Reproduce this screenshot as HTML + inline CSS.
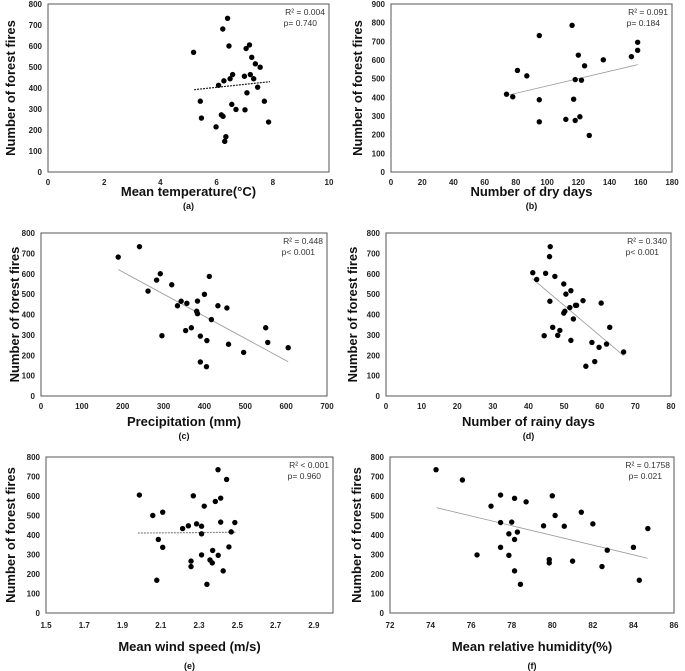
<!DOCTYPE html>
<html><head><meta charset="utf-8">
<style>
html,body{margin:0;padding:0;background:#fff;}
svg{display:block;font-family:"Liberation Sans",Arial,sans-serif;}
.tick{font-size:8px;font-weight:bold;fill:#222;}
.ytitle,.xtitle{font-size:13px;font-weight:bold;fill:#111;}
.lab{font-size:9px;font-weight:bold;fill:#111;}
.stat{font-size:8.5px;fill:#333;}
</style></head>
<body>
<svg id="chart" width="685" height="671" viewBox="0 0 685 671" xmlns="http://www.w3.org/2000/svg"></svg>
<script>
// Panel (a) Mean temperature
const tempX = [5.18,6.39,6.22,6.44,7.17,7.05,7.25,7.38,7.55,6.57,6.48,6.26,6.07,6.99,7.2,7.32,7.46,7.08,5.42,7.7,6.54,6.69,7.01,5.46,6.17,6.23,5.98,7.85,6.33,6.29];
const tempY = [570,732,681,600,605,588,546,515,499,464,444,434,413,456,464,444,404,377,337,337,322,298,296,257,272,265,215,238,168,146];
const tempTrend = [[5.2,392],[7.9,430]];
// Panel (b) Dry days
const dryX = [74,78,81,87,95,95,95,116,120,124,118,122,136,154,158,158,117,112,118,121,127];
const dryY = [417,403,544,515,731,387,269,786,626,569,495,492,601,618,695,652,390,282,276,296,196];
const dryTrend = [[74,410],[158,575]];
// Panel (c) Precipitation
const precX = [189,241,262,283,292,320,343,334,357,383,400,412,381,383,417,433,455,296,354,368,390,406,459,496,550,555,605,390,405];
const precY = [682,733,515,569,600,546,465,443,455,466,499,587,416,404,375,443,432,296,321,335,294,272,254,214,335,263,237,167,144];
const precTrend = [[189,621],[605,168]];
// Panel (d) Rainy days
const rainX = [41.2,42.3,46.1,45.9,44.8,47.4,49.9,50.5,51.9,46.0,55.3,60.4,53.2,53.5,51.6,49.9,50.2,52.6,46.8,48.8,44.4,48.2,51.9,57.8,59.8,61.9,62.8,66.7,56.1,58.6];
const rainY = [605,572,733,684,602,587,550,500,517,465,468,456,445,445,434,407,416,378,337,322,296,298,273,263,239,255,337,216,146,169];
const rainTrend = [[41,577],[66.7,198]];
// Panel (e) Wind speed
const windX = [1.988,2.058,2.11,2.087,2.11,2.079,2.214,2.244,2.27,2.287,2.313,2.313,2.327,2.258,2.258,2.313,2.357,2.371,2.369,2.385,2.399,2.413,2.413,2.4,2.426,2.341,2.444,2.456,2.468,2.487];
const windY = [605,500,517,377,337,168,433,447,601,457,445,406,548,266,238,298,272,321,257,572,735,589,466,296,216,147,685,339,416,464];
const windTrend = [[1.98,410],[2.49,414]];
// Panel (f) Relative humidity
const humX = [74.27,75.57,76.29,76.98,77.45,77.45,77.45,77.86,77.86,78.0,78.14,78.14,78.14,78.28,78.43,78.71,79.57,79.85,79.85,80.0,80.14,80.59,81.0,81.43,82.0,82.45,82.71,84.0,84.29,84.71];
const humY = [735,682,298,548,605,464,337,406,296,466,588,377,216,415,147,570,447,274,257,601,500,445,266,517,457,238,322,337,168,433];
const humTrend = [[74.3,540],[84.7,281]];

const tempTicks = [0,2,4,6,8,10];
const dryTicks = [0,20,40,60,80,100,120,140,160,180];
const precTicks = [0,100,200,300,400,500,600,700];
const rainTicks = [0,10,20,30,40,50,60,70,80];
const windTicks = [1.5,1.7,1.9,2.1,2.3,2.5,2.7,2.9];
const humTicks = [72,74,76,78,80,82,84,86];
const y800Ticks = [0,100,200,300,400,500,600,700,800];
const y900Ticks = [0,100,200,300,400,500,600,700,800,900];

const panels = [
 {id:'a',xs:tempX,ys:tempY,tr:tempTrend,xt:tempTicks,yt:y800Ticks,xmin:0,xmax:10,ymax:800,L:48,R:329,T:4,B:172,yTitleX:10,tickY:185,titleY:196,labY:211,xtitle:'Mean temperature(°C)',s1:'R² = 0.004',s2:'p= 0.740',dash:'2,1',tc:'#222'},
 {id:'b',xs:dryX,ys:dryY,tr:dryTrend,xt:dryTicks,yt:y900Ticks,xmin:0,xmax:180,ymax:900,L:391,R:672,T:4,B:172,yTitleX:357,tickY:185,titleY:196,labY:211,xtitle:'Number of dry days',s1:'R² = 0.091',s2:'p= 0.184',dash:'',tc:'#999'},
 {id:'c',xs:precX,ys:precY,tr:precTrend,xt:precTicks,yt:y800Ticks,xmin:0,xmax:700,ymax:800,L:41,R:327,T:233,B:396,yTitleX:14,tickY:409,titleY:426,labY:441,xtitle:'Precipitation (mm)',s1:'R² = 0.448',s2:'p< 0.001',dash:'',tc:'#999'},
 {id:'d',xs:rainX,ys:rainY,tr:rainTrend,xt:rainTicks,yt:y800Ticks,xmin:0,xmax:80,ymax:800,L:386,R:671,T:233,B:396,yTitleX:352,tickY:409,titleY:426,labY:441,xtitle:'Number of rainy days',s1:'R² = 0.340',s2:'p< 0.001',dash:'',tc:'#999'},
 {id:'e',xs:windX,ys:windY,tr:windTrend,xt:windTicks,yt:y800Ticks,xmin:1.5,xmax:3.0,ymax:800,L:46,R:333,T:457,B:613,yTitleX:10,tickY:628,titleY:651,labY:671,xtitle:'Mean wind speed (m/s)',s1:'R² < 0.001',s2:'p= 0.960',dash:'2,1',tc:'#888'},
 {id:'f',xs:humX,ys:humY,tr:humTrend,xt:humTicks,yt:y800Ticks,xmin:72,xmax:86,ymax:800,L:390,R:674,T:457,B:613,yTitleX:356,tickY:628,titleY:651,labY:671,xtitle:'Mean relative humidity(%)',s1:'R² = 0.1758',s2:'p= 0.021',dash:'',tc:'#999'}
];
const NS='http://www.w3.org/2000/svg';
const svg=document.getElementById('chart');
function mk(tag,attrs,parent){const e=document.createElementNS(NS,tag);for(const k in attrs)e.setAttribute(k,attrs[k]);parent.appendChild(e);return e;}
panels.forEach(p=>{
  const g=mk('g',{},svg);
  
  
  const sx=v=>p.L+(v-p.xmin)/(p.xmax-p.xmin)*(p.R-p.L);
  const sy=v=>p.B-v/p.ymax*(p.B-p.T);
  const box=mk('rect',{x:p.L,y:p.T,width:p.R-p.L,height:p.B-p.T,fill:'none',stroke:'#555','stroke-width':1},g);
  
  
  p.yt.forEach(v=>{const t=mk('text',{x:p.L-6,y:sy(v)+3,'text-anchor':'end',class:'tick'},g);t.textContent=v;
    
    });
  p.xt.forEach(v=>{const t=mk('text',{x:sx(v),y:p.tickY,'text-anchor':'middle',class:'tick'},g);t.textContent=v;
    
    });
  const cy=(p.T+p.B)/2;
  const yt=mk('text',{x:p.yTitleX+5,y:cy,'text-anchor':'middle',class:'ytitle',transform:'rotate(-90 '+(p.yTitleX+5)+' '+cy+')'},g);
  yt.textContent='Number of forest fires';
  
  
  const xt=mk('text',{x:(p.L+p.R)/2,y:p.titleY,'text-anchor':'middle',class:'xtitle'},g);
  xt.textContent=p.xtitle;
  
  
  const lb=mk('text',{x:(p.L+p.R)/2,y:p.labY-2,'text-anchor':'middle',class:'lab'},g);
  lb.textContent='('+p.id+')';
  
  
  const s1=mk('text',{x:p.R-4,y:p.T+11,'text-anchor':'end',class:'stat'},g);s1.textContent=p.s1;
  
  
  const s2=mk('text',{x:p.R-12,y:p.T+22,'text-anchor':'end',class:'stat'},g);s2.textContent=p.s2;
  
  
  const ln=mk('line',{x1:sx(p.tr[0][0]),y1:sy(p.tr[0][1]),x2:sx(p.tr[1][0]),y2:sy(p.tr[1][1]),stroke:p.tc,'stroke-width':p.dash?1.2:0.8,'stroke-dasharray':p.dash},g);
  
  
  p.xs.forEach((x,i)=>{const c=mk('circle',{cx:sx(x),cy:sy(p.ys[i]),r:2.7,fill:'#000'},g);
    
    });
});
</script>
</body></html>
